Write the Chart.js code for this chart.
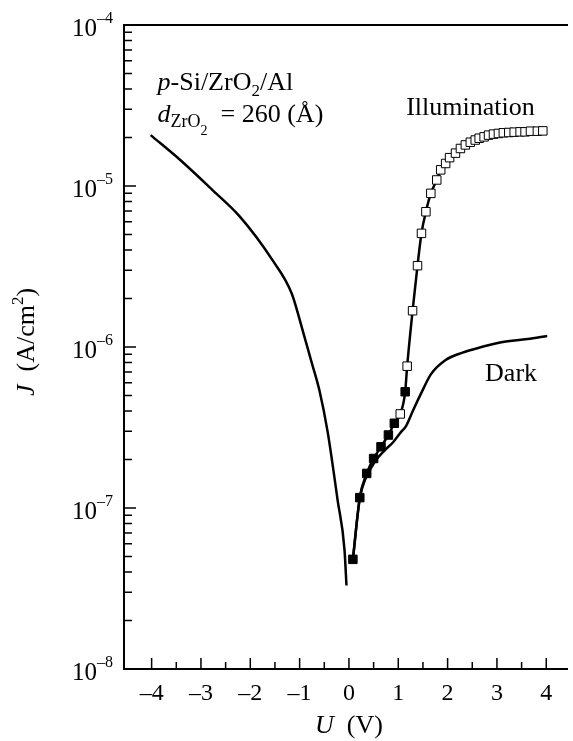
<!DOCTYPE html>
<html>
<head>
<meta charset="utf-8">
<script src="https://cdn.jsdelivr.net/npm/chart.js@4.4.1/dist/chart.umd.min.js"></script>
<style>
html, body { margin: 0; padding: 0; background: #fff; overflow: hidden; }
</style>
</head>
<body>
<canvas id="c" width="573" height="741"></canvas>
<script>
// dark current, reverse branch (U < 0)
const darkLeftU = [-4.02, -3.42, -2.76, -2.22, -1.56, -1.16, -0.96, -0.77, -0.60, -0.43, -0.23, -0.09, -0.05];
const darkLeftJ = [2.07e-5, 1.45e-5, 9.4e-6, 6.5e-6, 3.5e-6, 2.15e-6, 1.34e-6, 8.3e-7, 5.4e-7, 2.95e-7, 1.12e-7, 5.5e-8, 3.3e-8];

// dark current, forward branch (U > 0)
const darkRightU = [0.08, 0.22, 0.32, 0.53, 0.73, 0.90, 1.05, 1.16, 1.29, 1.46, 1.66, 1.96, 2.29, 2.69, 3.09, 3.62, 4.02];
const darkRightJ = [4.8e-8, 1.15e-7, 1.48e-7, 1.95e-7, 2.29e-7, 2.57e-7, 2.95e-7, 3.24e-7, 3.98e-7, 5.13e-7, 6.76e-7, 8.3e-7, 9.2e-7, 1.0e-6, 1.07e-6, 1.12e-6, 1.17e-6];

// illumination: filled squares
const filledU = [0.08, 0.22, 0.36, 0.50, 0.65, 0.80, 0.92, 1.14];
const filledJ = [4.8e-8, 1.16e-7, 1.64e-7, 2.03e-7, 2.40e-7, 2.84e-7, 3.36e-7, 5.27e-7];

// illumination: open squares
const openU = [1.04, 1.18, 1.29, 1.39, 1.47, 1.56, 1.66, 1.78, 1.86, 1.96, 2.04, 2.16, 2.26, 2.36, 2.46,
  2.56, 2.64, 2.74, 2.83, 2.93, 3.03, 3.13, 3.24, 3.35, 3.47, 3.57, 3.68, 3.82, 3.93];
const openJ = [3.84e-7, 7.6e-7, 1.68e-6, 3.2e-6, 5.08e-6, 6.92e-6, 9.0e-6, 1.09e-5, 1.26e-5, 1.38e-5, 1.50e-5, 1.60e-5, 1.71e-5, 1.80e-5, 1.87e-5,
  1.93e-5, 1.98e-5, 2.02e-5, 2.07e-5, 2.10e-5, 2.12e-5, 2.14e-5, 2.15e-5, 2.16e-5, 2.17e-5, 2.17e-5, 2.19e-5, 2.19e-5, 2.20e-5];

// axis ticks
const yExps = [-8, -7, -6, -5, -4];
const yMinor = [2, 3, 4, 5, 6, 7, 8, 9];

const SERIF = '"Liberation Serif", "Times New Roman", serif';

function pts(us, js) {
  return us.map((u, i) => ({ x: u, y: js[i] }));
}

const illumLine = pts(filledU.concat(openU), filledJ.concat(openJ)).sort((a, b) => a.x - b.x);

function font(size, italic) {
  return (italic ? 'italic ' : '') + size + 'px ' + SERIF;
}

// draws a row of text pieces (for sub/superscripts)
function runsWidth(ctx, runs) {
  let w = 0;
  runs.forEach(r => { ctx.font = font(r.size || 26, r.italic); w += ctx.measureText(r.t).width; });
  return w;
}
function drawRuns(ctx, x, y, runs) {
  runs.forEach(r => {
    ctx.font = font(r.size || 26, r.italic);
    ctx.fillText(r.t, x, y + (r.dy || 0));
    x += ctx.measureText(r.t).width;
  });
}

const framePlugin = {
  id: 'frame',
  afterDraw(chart) {
    const { ctx, chartArea: a, scales: { x, y } } = chart;
    ctx.save();
    ctx.strokeStyle = '#000';
    ctx.fillStyle = '#000';
    ctx.textBaseline = 'alphabetic';

    // box (right side is cut off by the picture)
    ctx.lineWidth = 2;
    ctx.beginPath();
    ctx.moveTo(a.right + 2, a.top);
    ctx.lineTo(a.left, a.top);
    ctx.lineTo(a.left, a.bottom);
    ctx.lineTo(a.right + 2, a.bottom);
    ctx.stroke();

    // y ticks, inward
    ctx.lineWidth = 1.5;
    ctx.beginPath();
    yExps.forEach(e => {
      const py = y.getPixelForValue(Math.pow(10, e));
      ctx.moveTo(a.left, py);
      ctx.lineTo(a.left + 12, py);
      if (e < -4) {
        yMinor.forEach(m => {
          const pm = y.getPixelForValue(m * Math.pow(10, e));
          ctx.moveTo(a.left, pm);
          ctx.lineTo(a.left + 8, pm);
        });
      }
    });
    // x ticks, inward
    x.ticks.forEach(t => {
      const px = x.getPixelForValue(t.value);
      if (px < a.left + 3) return;
      const len = Number.isInteger(t.value) ? 11 : 7;
      ctx.moveTo(px, a.bottom);
      ctx.lineTo(px, a.bottom - len);
    });
    ctx.stroke();

    // y tick labels 10^n
    yExps.forEach(e => {
      const py = y.getPixelForValue(Math.pow(10, e));
      drawRuns(ctx, 72, py + 11, [{ t: '10', size: 25 }, { t: '\u2013' + Math.abs(e), size: 16, dy: -13 }]);
    });

    // axis titles
    const xt = [{ t: 'U', italic: true }, { t: '  (V)' }];
    drawRuns(ctx, x.getPixelForValue(0) - runsWidth(ctx, xt) / 2, 733, xt);

    const yt = [{ t: 'J', italic: true }, { t: '  (A/cm' }, { t: '2', size: 17, dy: -11 }, { t: ')' }];
    ctx.save();
    ctx.translate(34, 342);
    ctx.rotate(-Math.PI / 2);
    drawRuns(ctx, -runsWidth(ctx, yt) / 2, 0, yt);
    ctx.restore();

    // annotations anchored to data coordinates
    drawRuns(ctx, x.getPixelForValue(-3.88), y.getPixelForValue(3.94e-5), [
      { t: 'p', italic: true }, { t: '-Si/ZrO' }, { t: '2', size: 17, dy: 6 }, { t: '/Al' }
    ]);
    drawRuns(ctx, x.getPixelForValue(-3.88), y.getPixelForValue(2.5e-5), [
      { t: 'd', italic: true }, { t: 'ZrO', size: 18, dy: 5 }, { t: '2', size: 14, dy: 13 }, { t: '  = 260 (\u00C5)' }
    ]);
    drawRuns(ctx, x.getPixelForValue(1.16), y.getPixelForValue(2.76e-5), [{ t: 'Illumination' }]);
    drawRuns(ctx, x.getPixelForValue(2.76), y.getPixelForValue(6.15e-7), [{ t: 'Dark' }]);

    ctx.restore();
  }
};

new Chart(document.getElementById('c'), {
  type: 'scatter',
  data: {
    datasets: [
      {
        label: 'Dark', data: pts(darkLeftU, darkLeftJ), showLine: true,
        borderColor: '#000', borderWidth: 2.5, pointRadius: 0, cubicInterpolationMode: 'monotone', order: 4
      },
      {
        label: 'Dark+', data: pts(darkRightU, darkRightJ), showLine: true,
        borderColor: '#000', borderWidth: 2.5, pointRadius: 0, cubicInterpolationMode: 'monotone', order: 4
      },
      {
        label: 'Illumination', data: illumLine, showLine: true,
        borderColor: '#000', borderWidth: 2.5, pointRadius: 0, cubicInterpolationMode: 'monotone', order: 3
      },
      {
        label: 'open', data: pts(openU, openJ), pointStyle: 'rect', pointRadius: 6,
        backgroundColor: '#fff', borderColor: '#000', borderWidth: 1, order: 2
      },
      {
        label: 'filled', data: pts(filledU, filledJ), pointStyle: 'rect', pointRadius: 6,
        backgroundColor: '#000', borderColor: '#000', borderWidth: 1, order: 1
      }
    ]
  },
  options: {
    responsive: false,
    animation: false,
    layout: { padding: { top: 25, left: 0, right: 0, bottom: 0 } },
    plugins: { legend: { display: false }, tooltip: { enabled: false } },
    scales: {
      x: {
        type: 'linear', min: -4.56, max: 4.4,
        grid: { display: false }, border: { display: false },
        ticks: {
          stepSize: 0.5, includeBounds: false, autoSkip: false, maxRotation: 0, padding: 2,
          color: '#000', font: { family: SERIF, size: 24 },
          callback: v => Number.isInteger(v) ? (v < 0 ? '\u2013' + Math.abs(v) : String(v)) : ''
        },
        afterFit: s => { s.height = 72; }
      },
      y: {
        type: 'logarithmic', min: 1e-8, max: 1e-4,
        grid: { display: false }, border: { display: false },
        ticks: { display: false },
        afterFit: s => { s.width = 124; }
      }
    }
  },
  plugins: [framePlugin]
});
</script>
</body>
</html>
